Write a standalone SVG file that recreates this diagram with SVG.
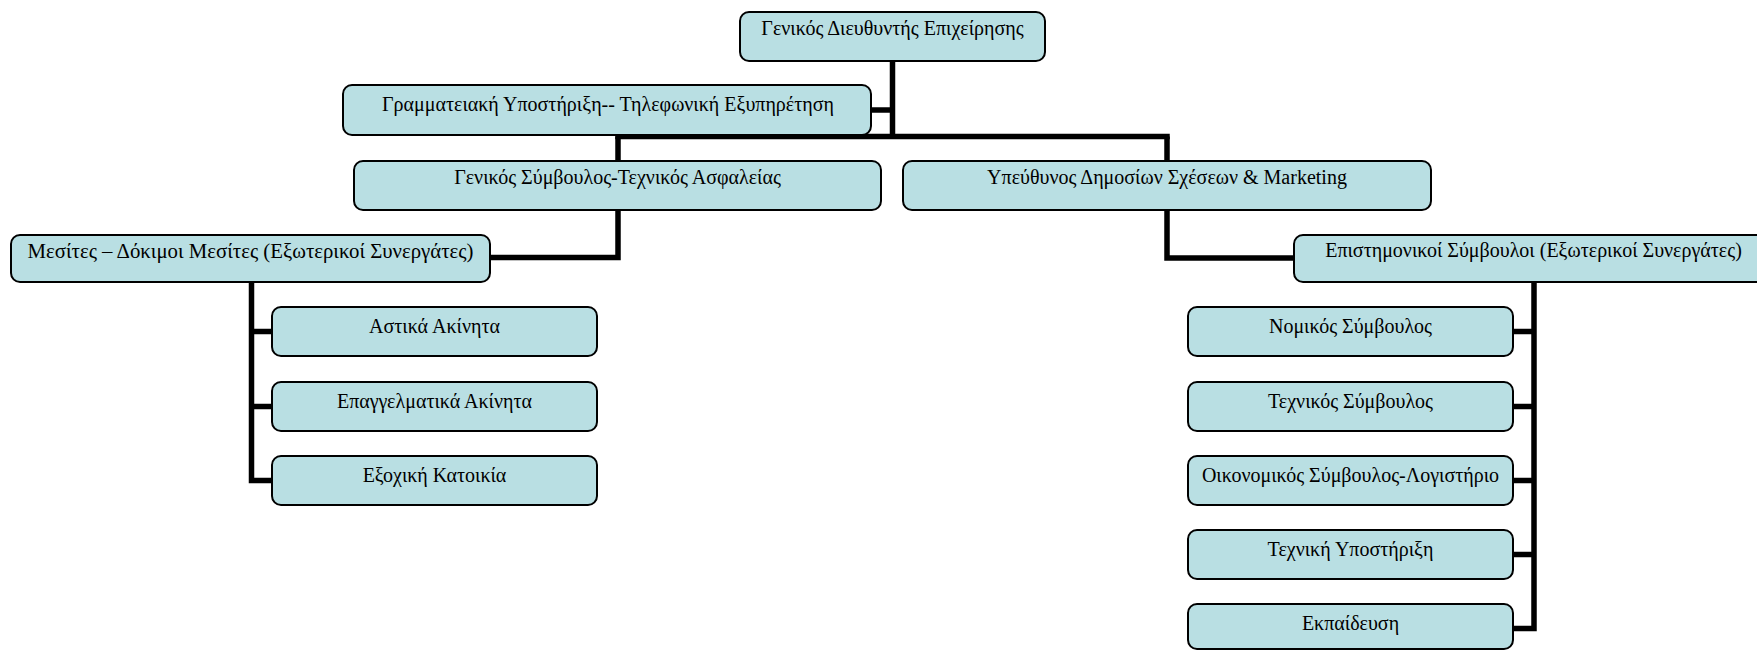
<svg xmlns="http://www.w3.org/2000/svg" width="1757" height="650" viewBox="0 0 1757 650">
<style>
.box{fill:#b9dfe3;stroke:#000;stroke-width:2}
.lbl{font-family:"Liberation Serif","Times New Roman",serif;font-size:20px;fill:#000;text-anchor:middle}
.con{fill:none;stroke:#000;stroke-width:5.5;stroke-linejoin:miter;stroke-linecap:butt}
</style>
<rect width="1757" height="650" fill="#fff"/>
<g id="connectors">
<path class="con" d="M892.5,61 V139"/>
<path class="con" d="M871,110 H892.5"/>
<path class="con" d="M615.25,136.5 H1169.75"/>
<path class="con" d="M618,136.5 V161"/>
<path class="con" d="M1167,136.5 V161"/>
<path class="con" d="M618,210 V257.5 H490"/>
<path class="con" d="M1167,210 V258 H1294"/>
<path class="con" d="M251.5,282 V480.5 H272"/>
<path class="con" d="M251.5,331.5 H272"/>
<path class="con" d="M251.5,406.5 H272"/>
<path class="con" d="M1534,282 V628.5 H1513"/>
<path class="con" d="M1534,331.5 H1513"/>
<path class="con" d="M1534,406.5 H1513"/>
<path class="con" d="M1534,480.5 H1513"/>
<path class="con" d="M1534,554.5 H1513"/>
</g>
<g id="n1"><rect class="box" x="740" y="12" width="305" height="49" rx="9"/><text class="lbl" x="892.5" y="34.5">Γενικός Διευθυντής Επιχείρησης</text></g>
<g id="n2"><rect class="box" x="343" y="85" width="528" height="50" rx="9"/><text class="lbl" x="608" y="111">Γραμματειακή Υποστήριξη-- Τηλεφωνική Εξυπηρέτηση</text></g>
<g id="n3"><rect class="box" x="354" y="161" width="527" height="49" rx="9"/><text class="lbl" x="617.5" y="184">Γενικός Σύμβουλος-Τεχνικός Ασφαλείας</text></g>
<g id="n4"><rect class="box" x="903" y="161" width="528" height="49" rx="9"/><text class="lbl" x="1167" y="184">Υπεύθυνος Δημοσίων Σχέσεων &amp; Marketing</text></g>
<g id="n5"><rect class="box" x="11" y="235" width="479" height="47" rx="9"/><text class="lbl" x="250.5" y="257.5" style="font-size:20.8px">Μεσίτες – Δόκιμοι Μεσίτες (Εξωτερικοί Συνεργάτες)</text></g>
<g id="n6"><rect class="box" x="272" y="307" width="325" height="49" rx="9"/><text class="lbl" x="434.5" y="332.5">Αστικά Ακίνητα</text></g>
<g id="n7"><rect class="box" x="272" y="382" width="325" height="49" rx="9"/><text class="lbl" x="434.5" y="407.5">Επαγγελματικά Ακίνητα</text></g>
<g id="n8"><rect class="box" x="272" y="456" width="325" height="49" rx="9"/><text class="lbl" x="434.5" y="481.5">Εξοχική Κατοικία</text></g>
<g id="n9"><rect class="box" x="1294" y="235" width="480" height="47" rx="9"/><text class="lbl" x="1533.5" y="256.5">Επιστημονικοί Σύμβουλοι (Εξωτερικοί Συνεργάτες)</text></g>
<g id="n10"><rect class="box" x="1188" y="307" width="325" height="49" rx="9"/><text class="lbl" x="1350.5" y="332.5">Νομικός Σύμβουλος</text></g>
<g id="n11"><rect class="box" x="1188" y="382" width="325" height="49" rx="9"/><text class="lbl" x="1350.5" y="407.5">Τεχνικός Σύμβουλος</text></g>
<g id="n12"><rect class="box" x="1188" y="456" width="325" height="49" rx="9"/><text class="lbl" x="1350.5" y="481.5">Οικονομικός Σύμβουλος-Λογιστήριο</text></g>
<g id="n13"><rect class="box" x="1188" y="530" width="325" height="49" rx="9"/><text class="lbl" x="1350.5" y="555.5">Τεχνική Υποστήριξη</text></g>
<g id="n14"><rect class="box" x="1188" y="604" width="325" height="45" rx="9"/><text class="lbl" x="1350.5" y="629.5">Εκπαίδευση</text></g>
</svg>
